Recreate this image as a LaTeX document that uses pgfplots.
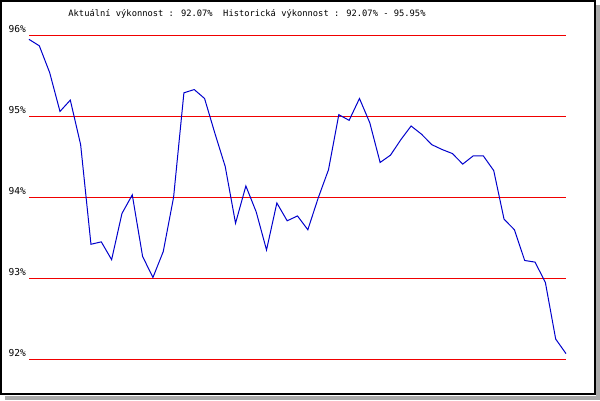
\documentclass[border=0pt]{standalone}
\usepackage{fontspec}
\setmainfont{DejaVu Sans Mono}
\usepackage{pgfplots}
\pgfplotsset{compat=1.18}
\definecolor{lineblue}{RGB}{0,0,204}
\definecolor{shadowgray}{RGB}{170,170,170}
\definecolor{gridred}{RGB}{240,0,0}
\begin{document}
\begin{tikzpicture}[x=1bp,y=1bp]
\useasboundingbox (0,0) rectangle (600,400);
\fill[white] (0,0) rectangle (600,400);
\fill[shadowgray] (595.5,0) rectangle (600,395);
\fill[shadowgray] (5,0) rectangle (600,4.5);
\fill[white] (1,5.7) rectangle (594.5,399);
\draw[black,line width=2bp] (1,5.7) rectangle (594.5,399);
\node[font=\fontsize{8.8}{10}\selectfont, inner sep=0pt] at (247,386.5) {Aktuální výkonnost : 92.07\%\ \ Historická výkonnost : 92.07\% - 95.95\%};
\begin{axis}[
  at={(29bp,40.7bp)}, anchor=south west,
  scale only axis, width=537bp, height=324bp,
  xmin=0, xmax=52, ymin=92, ymax=96,
  axis line style={draw=none},
  xtick=\empty,
  ytick={92,93,94,95,96},
  yticklabels={92\%,93\%,94\%,95\%,96\%},
  major tick length=0pt,
  tick style={draw=none},
  ymajorgrids,
  grid style={gridred, line width=1bp},
  yticklabel style={font=\fontsize{9.6}{10}\selectfont, anchor=south east, inner sep=0pt, xshift=-3bp, yshift=2bp},
  clip=false,
]
\addplot[lineblue, line width=1bp, mark=none] coordinates {
(0,95.95) (1,95.87) (2,95.54) (3,95.06) (4,95.20) (5,94.65) (6,93.42) (7,93.45)
(8,93.23) (9,93.80) (10,94.03) (11,93.27) (12,93.01) (13,93.33) (14,94.00) (15,95.29)
(16,95.33) (17,95.22) (18,94.79) (19,94.38) (20,93.68) (21,94.14) (22,93.82) (23,93.35)
(24,93.93) (25,93.71) (26,93.77) (27,93.60) (28,93.99) (29,94.34) (30,95.02) (31,94.95)
(32,95.22) (33,94.92) (34,94.43) (35,94.52) (36,94.71) (37,94.88) (38,94.78) (39,94.65)
(40,94.59) (41,94.54) (42,94.41) (43,94.51) (44,94.51) (45,94.33) (46,93.73) (47,93.60)
(48,93.22) (49,93.20) (50,92.95) (51,92.25) (52,92.07)
};
\end{axis}
\end{tikzpicture}
\end{document}
